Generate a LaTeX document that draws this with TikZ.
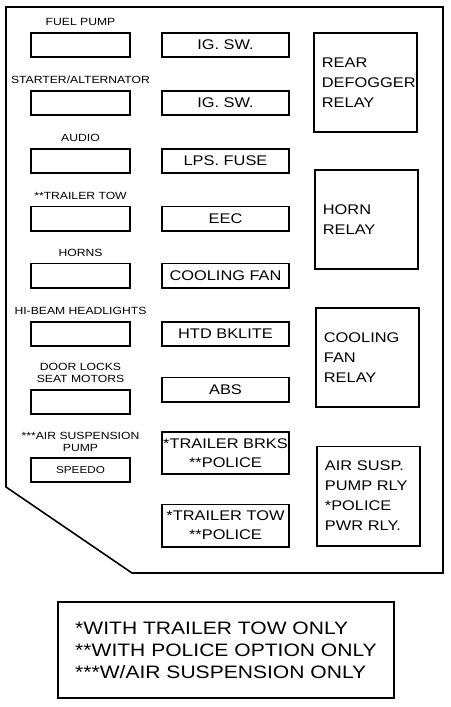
\documentclass[tikz,border=0pt]{standalone}
\usepackage{fontspec}
\setmainfont[FakeStretch=1.17]{Liberation Sans}
\usepackage{tikz}
\usetikzlibrary{positioning}

\begin{document}
\begin{tikzpicture}[
                x=1pt, y=-1pt,
                % Kiểu hộp cầu chì và rơ-le
                fusebox/.style={draw, line width=1.8pt, minimum width=99.2pt, minimum height=24.2pt, inner sep=0pt, font=\fontsize{10}{12}\selectfont},
                midbox/.style={draw, line width=1.8pt, minimum width=127.2pt, minimum height=#1, inner sep=0pt, align=center, font=\fontsize{14}{19}\selectfont},
                midbox/.default=24.2pt,
                relaybox/.style={draw, line width=1.8pt, minimum width=103.2pt, minimum height=99.2pt, text width=87.2pt, inner xsep=8pt, inner ysep=0pt, align=left, font=\fontsize{14}{20}\selectfont},
                fuselbl/.style={inner sep=0pt, align=center, font=\fontsize{10.4}{12.5}\selectfont},
                notebox/.style={draw, line width=1.8pt, minimum width=336pt, minimum height=96pt, inner sep=0pt, align=left, font=\fontsize{18}{22}\selectfont},
                node distance=6pt
            ]
                \useasboundingbox (0,0) rectangle (450,707);
                % Outline
                \draw[line width=1.6pt, line join=miter] (6,7) -- (443,7) -- (443,573) -- (132,573) -- (6,487) -- cycle;

                % Left column
                \node[fusebox] (fuelpump) at (80.5,45) {};
                \node[fuselbl, above=of fuelpump] (fuelpump-l) {FUEL PUMP};
                \node[fusebox] (startalt) at (80.5,103) {};
                \node[fuselbl, above=of startalt] (startalt-l) {STARTER/ALTERNATOR};
                \node[fusebox] (audio) at (80.5,161) {};
                \node[fuselbl, above=of audio] (audio-l) {AUDIO};
                \node[fusebox] (trltow2) at (80.5,218.5) {};
                \node[fuselbl, above=of trltow2] (trltow2-l) {**TRAILER TOW};
                \node[fusebox] (horns) at (80.5,275.5) {};
                \node[fuselbl, above=of horns] (horns-l) {HORNS};
                \node[fusebox] (hibeam) at (80.5,334) {};
                \node[fuselbl, above=of hibeam] (hibeam-l) {HI-BEAM HEADLIGHTS};
                \node[fusebox] (locks) at (80.5,402) {};
                \node[fuselbl, above=of locks] (locks-l) {DOOR LOCKS\\SEAT MOTORS};
                \node[fusebox] (speedo) at (80.5,470) {SPEEDO};
                \node[fuselbl, above=5pt of speedo] (speedo-l) {***AIR SUSPENSION\\PUMP};

                % Middle column
                \node[midbox] (igsw1) at (225.5,45) {IG. SW.};
                \node[midbox] (igsw2) at (225.5,103) {IG. SW.};
                \node[midbox] (lps) at (225.5,161) {LPS. FUSE};
                \node[midbox] (eec) at (225.5,218.5) {EEC};
                \node[midbox] (coolfan) at (225.5,275.5) {COOLING FAN};
                \node[midbox] (htd) at (225.5,334) {HTD BKLITE};
                \node[midbox] (abs) at (225.5,389.5) {ABS};
                \node[midbox=42.2pt] (trlbrks) at (225.5,453) {*TRAILER BRKS\\{**POLICE}};
                \node[midbox=42.2pt] (trltow) at (225.5,525.5) {*TRAILER TOW\\{**POLICE}};

                % Relays
                \node[relaybox] (defog) at (365.5,82.5) {REAR\\DEFOGGER\\RELAY};
                \node[relaybox] (horn) at (366.5,219.5) {HORN\\RELAY};
                \node[relaybox] (fanrly) at (367.5,357.5) {COOLING\\FAN\\RELAY};
                \node[relaybox] (airrly) at (368.5,496) {AIR SUSP.\\PUMP RLY\\{*POLICE}\\PWR RLY.};

                % Legend
                \node[notebox] (notes) at (226,650) {*WITH TRAILER TOW ONLY\\{**WITH POLICE OPTION ONLY}\\{***W/AIR SUSPENSION ONLY}};

            \end{tikzpicture}
\end{document}
